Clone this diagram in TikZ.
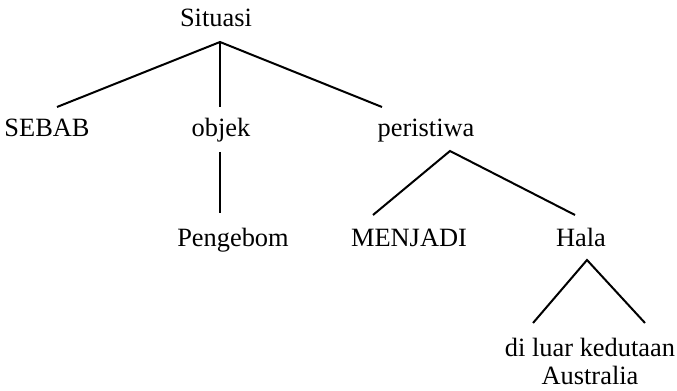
\documentclass[tikz,border=0pt]{standalone}
\usepackage{fontspec}
\setmainfont{Liberation Serif}
\begin{document}
\begin{tikzpicture}[x=0.75pt,y=-0.75pt,
  lbl/.style={inner sep=0pt,outer sep=0pt,anchor=base,font=\fontsize{19.8}{21}\selectfont},
  branch/.style={line width=1.5pt,line cap=butt}]
\useasboundingbox (0,0) rectangle (677,391);
% labels
\node[lbl] (situasi) at (216,27) {Situasi};
\node[lbl] (sebab) at (47,137) {SEBAB};
\node[lbl] (objek) at (221,137) {objek};
\node[lbl] (peristiwa) at (426,137) {peristiwa};
\node[lbl] (pengebom) at (233,247) {Pengebom};
\node[lbl] (menjadi) at (409,247) {MENJADI};
\node[lbl] (hala) at (581,247) {Hala};
\node[lbl,align=center] (luar) at (590,384) {di luar kedutaan\\Australia};
% branch points
\coordinate (sitApex) at (220,42);
\coordinate (sebabTop) at (57,107);
\coordinate (objekTop) at (220,107);
\coordinate (perTop) at (382,107);
\coordinate (objekBot) at (220,152);
\coordinate (pengTop) at (220,213);
\coordinate (perApex) at (450,151);
\coordinate (menTop) at (373,215);
\coordinate (halaTop) at (575,215);
\coordinate (halaApex) at (587,260);
\coordinate (luarTopL) at (533,323);
\coordinate (luarTopR) at (645,323);
% connectors
\draw[branch] (sebabTop) -- (sitApex) -- (perTop);
\draw[branch] (sitApex) -- (objekTop);
\draw[branch] (objekBot) -- (pengTop);
\draw[branch] (menTop) -- (perApex) -- (halaTop);
\draw[branch] (luarTopL) -- (halaApex) -- (luarTopR);
\end{tikzpicture}
\end{document}
